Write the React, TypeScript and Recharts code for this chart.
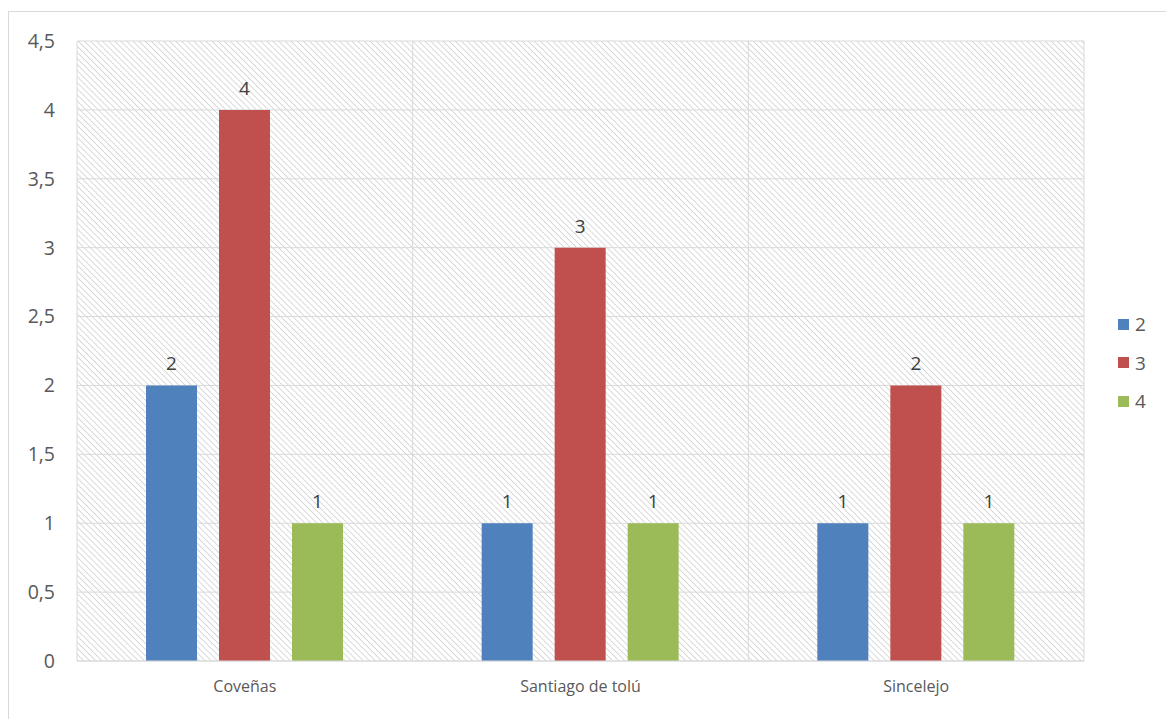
import { Bar, BarChart, CartesianGrid, LabelList, Legend, XAxis, YAxis } from "recharts";

const categories = ["Coveñas", "Santiago de tolú", "Sincelejo"];
const series2 = [2, 1, 1];
const series3 = [4, 3, 2];
const series4 = [1, 1, 1];
const yTicks = [0, 0.5, 1, 1.5, 2, 2.5, 3, 3.5, 4, 4.5];

const seriesList = [
  { key: "s2", name: "2", color: "#4f81bd" },
  { key: "s3", name: "3", color: "#c0504d" },
  { key: "s4", name: "4", color: "#9bbb59" },
];

const data = categories.map((name, i) => ({
  name,
  s2: series2[i],
  s3: series3[i],
  s4: series4[i],
}));

const FONT = "'Open Sans', sans-serif";
const TEXT = "#595959";
const GRID = "#d9d9d9";

const LegendBox = () => (
  <div style={{ fontFamily: FONT, fontSize: 19, color: TEXT }}>
    {seriesList.map((s) => (
      <div key={s.key} style={{ display: "flex", alignItems: "center", height: 38.5 }}>
        <div style={{ width: 11, height: 11, background: s.color, marginRight: 6 }} />
        <span>{s.name}</span>
      </div>
    ))}
  </div>
);

const App = () => {
  return (
    <div style={{ position: "relative", width: 1166, height: 711 }}>
      <div
        style={{
          position: "absolute",
          left: 0,
          top: 3,
          right: 0,
          bottom: 0,
          borderTop: `1px solid ${GRID}`,
          borderLeft: `1px solid ${GRID}`,
        }}
      />
      <BarChart
        width={1166}
        height={711}
        data={data}
        margin={{ top: 33, right: 90, left: 0, bottom: 0 }}
        barSize={51}
        barGap={22}
        style={{ position: "absolute", left: 0, top: 0 }}
      >
        <defs>
          <pattern
            id="hatch"
            patternUnits="userSpaceOnUse"
            width={4.3}
            height={4.3}
            patternTransform="rotate(-45)"
          >
            <rect width={4.3} height={4.3} fill="#ffffff" />
            <line x1={0} y1={0} x2={0} y2={4.3} stroke="#c6c6c6" strokeWidth={1.3} />
          </pattern>
        </defs>
        <CartesianGrid
          stroke={GRID}
          fill="url(#hatch)"
          fillOpacity={1}
          verticalCoordinatesGenerator={({ offset }: any) =>
            [0, 1, 2, 3].map((i) => offset.left + (i * offset.width) / categories.length)
          }
        />
        <XAxis
          dataKey="name"
          tickLine={false}
          axisLine={{ stroke: GRID }}
          tickSize={0}
          tickMargin={20}
          height={58}
          tick={{ fill: TEXT, fontFamily: FONT, fontSize: 16 }}
        />
        <YAxis
          domain={[0, 4.5]}
          ticks={yTicks}
          interval={0}
          tickLine={false}
          axisLine={false}
          tickSize={0}
          tickMargin={22}
          width={69}
          tickFormatter={(v: number) => String(v).replace(".", ",")}
          tick={{ fill: TEXT, fontFamily: FONT, fontSize: 19.5 }}
        />
        <Legend
          layout="vertical"
          align="center"
          verticalAlign="middle"
          content={() => <LegendBox />}
          wrapperStyle={{ left: 1110, top: 297, width: 50 }}
        />
        {seriesList.map((s) => (
          <Bar key={s.key} dataKey={s.key} name={s.name} fill={s.color} isAnimationActive={false}>
            <LabelList
              dataKey={s.key}
              position="top"
              offset={15}
              fontFamily={FONT}
              fontSize={19}
              fill="#404040"
            />
          </Bar>
        ))}
      </BarChart>
    </div>
  );
};

export default App;
